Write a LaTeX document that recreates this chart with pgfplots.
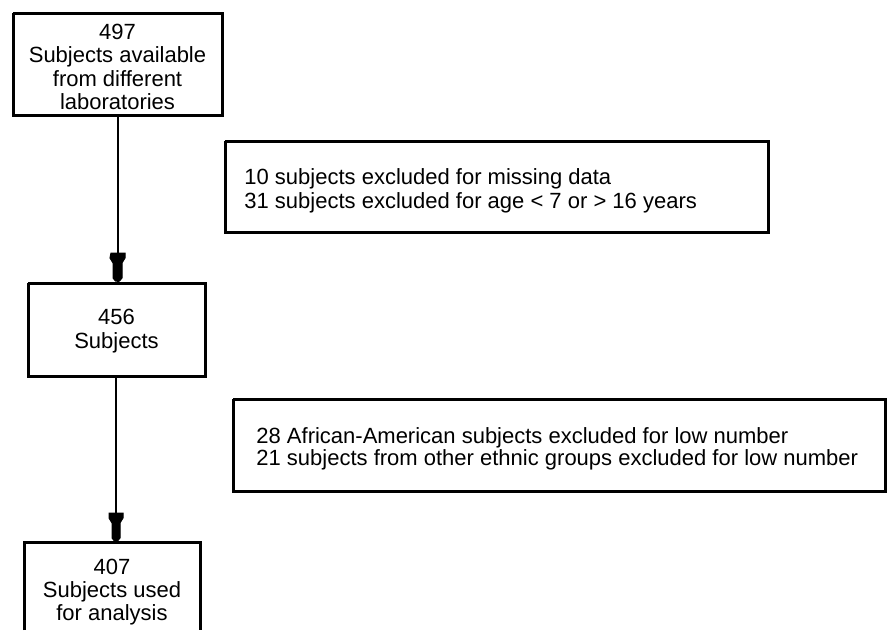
\documentclass[border=0pt]{standalone}
\usepackage{fontspec}
\setmainfont{Liberation Sans}
\usepackage{pgfplots}
\pgfplotsset{compat=1.18}
\begin{document}
\begin{tikzpicture}
\begin{axis}[scale only axis, width=444pt, height=315pt,
  xmin=0, xmax=888, ymin=0, ymax=630, y dir=reverse,
  hide axis, clip=false]
% frame of the picture (invisible)
\addplot[draw=none] coordinates {(0,0) (888,630)};
% boxes
\addplot[line width=1.5pt, black, mark=none] coordinates {(13,13) (222,13) (222,115) (13,115) (13,13)};
\addplot[line width=1.5pt, black, mark=none] coordinates {(28,283) (205,283) (205,376) (28,376) (28,283)};
\addplot[line width=1.5pt, black, mark=none] coordinates {(24,630) (24,542) (200,542) (200,630)};
\addplot[line width=1.5pt, black, mark=none] coordinates {(225,141) (768,141) (768,232) (225,232) (225,141)};
\addplot[line width=1.5pt, black, mark=none] coordinates {(233,399) (885,399) (885,491) (233,491) (233,399)};
% connector lines
\addplot[line width=1pt, black, mark=none] coordinates {(117.5,115) (117.5,283)};
\addplot[line width=1pt, black, mark=none] coordinates {(116,376) (116,542)};
% arrow heads
\addplot[fill=black, draw=black, line width=0.5pt, mark=none] coordinates {(111,253) (125,253) (125,258) (122,263) (122,278) (119.5,281) (115.5,281) (113,278) (113,263) (110,258) (111,253)} -- cycle;
\addplot[fill=black, draw=black, line width=0.5pt, mark=none] coordinates {(109,513) (123,513) (123,518) (120,523) (120,538) (117.5,541) (114.5,541) (112,538) (112,523) (109,518) (109,513)} -- cycle;
% texts
\node[font=\fontsize{11}{11.6}\selectfont, align=center, inner sep=0pt] at (axis cs:117.5,67) {497\\Subjects available\\from different\\laboratories};
\node[font=\fontsize{11}{11.6}\selectfont, align=center, inner sep=0pt] at (axis cs:116.5,331) {456\\Subjects};
\node[font=\fontsize{11}{11.6}\selectfont, align=center, inner sep=0pt] at (axis cs:112,592) {407\\Subjects used\\for analysis};
\node[font=\fontsize{11}{11.75}\selectfont, align=left, inner sep=0pt, anchor=west] at (axis cs:244,191) {10 subjects excluded for missing data\\31 subjects excluded for age < 7 or > 16 years};
\node[font=\fontsize{11}{11.25}\selectfont, align=left, inner sep=0pt, anchor=west] at (axis cs:256,449) {28 African-American subjects excluded for low number\\21 subjects from other ethnic groups excluded for low number};
\end{axis}
\end{tikzpicture}
\end{document}
